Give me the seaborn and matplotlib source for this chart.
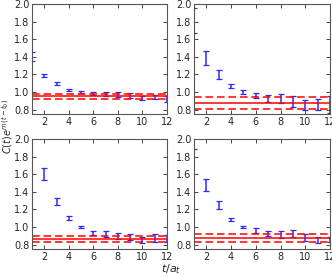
import numpy as np
import seaborn as sns
import matplotlib
matplotlib.use("Agg")
import matplotlib.pyplot as plt

sns.set_style("ticks")
plt.rcParams['font.family'] = ['DejaVu Sans']

t = [1, 2, 3, 4, 5, 6, 7, 8, 9, 10, 11, 12]

# effective correlator values and errors per panel
y_tl = [1.40, 1.19, 1.10, 1.025, 1.00, 0.98, 0.975, 0.97, 0.96, 0.93, 0.94, 0.92]
e_tl = [0.05, 0.02, 0.015, 0.01, 0.01, 0.015, 0.02, 0.025, 0.03, 0.025, 0.025, 0.03]
y_tr = [1.81, 1.39, 1.20, 1.07, 1.00, 0.96, 0.93, 0.93, 0.89, 0.85, 0.86, 0.86]
e_tr = [0.14, 0.08, 0.05, 0.02, 0.02, 0.03, 0.04, 0.05, 0.06, 0.06, 0.06, 0.10]
y_bl = [2.30, 1.60, 1.29, 1.10, 1.00, 0.93, 0.92, 0.90, 0.89, 0.85, 0.875, 0.87]
e_bl = [0.10, 0.065, 0.04, 0.02, 0.015, 0.02, 0.03, 0.035, 0.035, 0.035, 0.04, 0.04]
y_br = [1.95, 1.48, 1.25, 1.085, 1.00, 0.96, 0.93, 0.92, 0.93, 0.88, 0.85, 0.86]
e_br = [0.06, 0.07, 0.04, 0.015, 0.015, 0.025, 0.03, 0.04, 0.04, 0.04, 0.035, 0.03]

# fit results: central, low, high
fit_tl = [0.95, 0.92, 0.98]
fit_tr = [0.87, 0.81, 0.94]
fit_bl = [0.86, 0.825, 0.90]
fit_br = [0.875, 0.835, 0.92]

panels = [(y_tl, e_tl, fit_tl), (y_tr, e_tr, fit_tr),
          (y_bl, e_bl, fit_bl), (y_br, e_br, fit_br)]

W, H = 332, 277
fig = plt.figure(figsize=(W / 100, H / 100), dpi=100)
boxes = [(32, 4, 167, 114), (194, 4, 330, 114),
         (32, 139, 167, 249), (194, 139, 330, 249)]

for (x0, y0, x1, y1), (y, e, fit) in zip(boxes, panels):
    ax = fig.add_axes([x0 / W, 1 - y1 / H, (x1 - x0) / W, (y1 - y0) / H])
    ax.errorbar(t, y, yerr=e, fmt='none', ecolor='#2a2aff', elinewidth=1.1,
                capsize=2.5, capthick=0.9, clip_on=True)
    ax.axhline(fit[0], color='red', lw=1.1)
    ax.axhline(fit[1], color='red', lw=1.1, ls=(0, (5, 2.5)))
    ax.axhline(fit[2], color='red', lw=1.1, ls=(0, (5, 2.5)))
    ax.set_xlim(1, 12)
    ax.set_ylim(0.75, 2.0)
    ax.set_xticks([2, 4, 6, 8, 10, 12])
    ax.set_yticks([0.8, 1.0, 1.2, 1.4, 1.6, 1.8, 2.0])
    ax.tick_params(direction='in', top=True, right=True, labelsize=7,
                   length=3, width=0.6, pad=2)
    for s in ax.spines.values():
        s.set_linewidth(0.8)
        s.set_color('#555555')

fig.text(0.002, 0.545, r'$C(t)e^{m(t-t_0)}$', rotation=90, va='center',
         ha='left', fontsize=7)
fig.text(0.515, 0.002, r'$t/a_t$', ha='center', va='bottom', fontsize=8)

fig.savefig('out.png', dpi=100)
